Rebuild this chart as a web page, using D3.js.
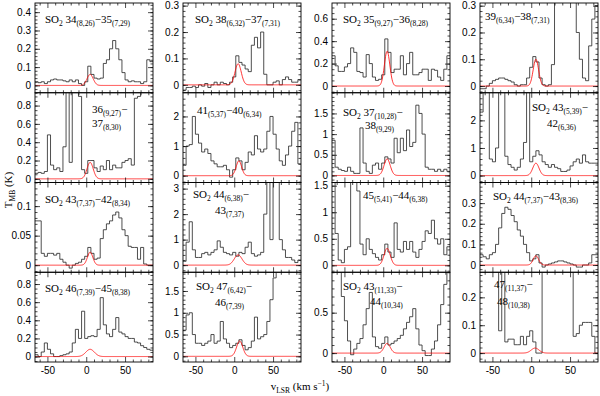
<!DOCTYPE html>
<html>
<head>
<meta charset="utf-8">
<script src="https://cdn.jsdelivr.net/npm/d3@7"></script>
<style>
body { margin: 0; background: #fff; }
svg { display: block; }
.tick text { font-family: "Liberation Sans", Arial, sans-serif; font-size: 10px; fill: #000; }
.lab { font-family: "Liberation Serif", "Times New Roman", serif; font-size: 11px; fill: #000; }
</style>
</head>
<body>
<div id="chart-area"></div>
<script>
// channel centres (km/s), 4 km/s wide
var vel = [-64,-60,-56,-52,-48,-44,-40,-36,-32,-28,-24,-20,-16,-12,-8,-4,0,4,8,12,16,20,24,28,32,36,40,44,48,52,56,60,64,68,72,76,80,84];

// spectra, T_MB (K)
var s1  = [0.02,0.015,0.02,0.01,0.02,0.03,0.035,0.03,0.03,0.025,0.02,0.03,0.02,0.03,0.01,0.0,0.02,0.105,0.06,0.04,0.035,0.04,0.12,0.14,0.2,0.245,0.2,0.14,0.07,0.03,0.02,0.025,0.02,0.02,0.01,0.02,0.14,0.13];
var s2  = [-0.02,-0.01,-0.01,-0.005,-0.01,0.0,-0.005,0.005,-0.01,0.0,0.01,0.0,0.01,0.005,0.0,0.01,0.03,0.11,0.085,0.075,0.06,0.05,0.15,0.18,0.14,0.2,0.04,0.0,0.0,0.01,0.015,0.0,0.02,0.03,0.02,0.01,0.01,0.02];
var s3  = [0.27,0.18,0.13,0.13,0.17,0.2,0.34,0.3,0.13,0.12,0.08,0.28,0.2,0.08,0.05,0.06,0.1,0.42,0.3,0.12,0.15,0.15,0.27,0.1,0.2,0.3,0.1,0.1,0.12,0.15,0.15,0.05,0.15,0.14,0.08,0.05,0.15,0.27];
var s4  = [-0.01,-0.01,0.0,0.01,0.02,0.025,0.03,0.03,0.025,0.02,0.015,0.005,0.0,0.005,0.005,0.03,0.07,0.11,0.09,0.03,0.005,0.0,0.005,0.08,0.5,0.6,0.7,0.6,0.5,0.45,0.4,0.2,0.1,0.03,0.02,0.15,0.25,0.3];
var s5  = [0.06,0.07,0.06,0.08,0.48,0.15,0.1,0.12,0.08,0.35,1.2,0.18,1.2,1.2,0.9,0.1,0.06,0.2,0.2,0.12,0.08,0.14,0.1,0.2,0.1,0.15,0.12,0.12,0.18,0.2,0.22,0.15,0.88,0.9,1.2,1.2,1.2,1.2];
var s6  = [0.35,1.0,1.05,2.0,1.4,1.1,0.8,0.9,0.75,0.5,0.4,0.3,0.3,0.35,0.2,-0.05,0.2,0.6,0.5,0.2,0.45,0.8,0.7,1.35,0.9,0.8,0.9,1.5,2.0,1.4,0.9,0.5,0.35,0.7,1.0,1.5,1.8,0.4];
var s7  = [0.85,0.2,0.15,0.12,0.1,0.2,0.1,0.05,0.05,1.15,0.3,0.1,0.05,0.25,0.3,0.15,0.3,0.45,0.4,0.3,0.9,0.55,0.9,0.6,1.1,0.7,0.8,1.7,1.5,1.0,0.2,0.15,0.15,0.1,0.15,0.1,0.15,0.1];
var s8  = [2.3,3.5,3.5,0.6,0.5,1.0,3.5,3.5,0.7,0.4,0.3,0.2,0.3,0.6,1.2,3.5,0.5,0.7,0.9,0.75,0.5,0.4,0.3,0.4,0.3,0.25,0.15,0.15,0.2,0.35,0.5,0.6,0.45,0.75,0.5,0.45,0.45,0.45];
var s9  = [0.075,0.075,0.02,0.015,0.02,0.02,0.017,0.02,0.01,0.005,0.0,-0.005,0.0,0.003,0.005,0.01,0.015,0.03,0.02,0.01,0.012,0.045,0.06,0.07,0.075,0.085,0.09,0.08,0.06,0.05,0.032,0.03,0.03,0.01,0.03,0.002,0.0,0.0];
var s10 = [0.15,0.9,1.7,0.6,0.3,0.3,0.45,0.5,0.4,0.5,0.6,0.95,0.7,0.5,0.45,0.4,0.5,0.35,0.5,0.45,0.7,0.9,0.45,0.35,0.4,0.5,2.0,3.5,1.0,3.5,3.5,1.0,0.6,0.3,0.3,0.2,0.1,0.2];
var s11 = [1.6,0.6,0.1,0.05,0.3,0.35,1.6,1.6,1.4,0.4,0.2,0.5,0.3,0.22,0.15,0.1,0.2,0.4,0.25,0.15,0.8,0.3,0.25,0.45,0.3,0.45,0.25,0.15,0.3,0.45,0.65,0.6,0.85,0.5,0.4,0.5,0.2,0.35];
var s12 = [0.05,0.04,0.03,0.05,0.06,0.1,0.18,0.25,0.28,0.27,0.24,0.21,0.17,0.14,0.1,0.06,0.02,0.03,0.05,0.01,-0.01,0.0,0.005,0.01,0.015,0.02,0.02,0.015,0.01,0.005,0.0,-0.01,-0.01,0.0,0.0,0.01,0.05,0.05];
var s13 = [0.02,0.0,0.05,0.15,0.08,0.03,0.0,0.0,0.01,0.02,0.03,0.05,0.15,0.3,0.2,0.5,0.2,0.22,0.23,0.22,0.3,0.65,0.35,0.25,0.22,0.3,0.43,0.27,0.25,0.22,0.2,0.2,0.16,0.15,0.12,0.1,0.08,0.07];
var s14 = [0.6,0.95,1.0,0.5,0.3,0.3,0.25,0.3,0.35,0.5,0.3,0.35,0.8,0.4,0.3,0.2,0.25,0.3,0.38,0.25,0.15,0.2,0.35,0.9,0.4,0.45,0.5,0.8,1.3,1.8,2.2,2.5,2.5,2.5,2.5,2.5,2.5,2.5];
var s15 = [1.2,1.2,1.0,0.7,0.4,0.15,-0.02,0.05,0.12,0.18,0.35,0.55,0.75,0.2,0.08,0.06,0.12,0.2,0.1,0.12,0.15,0.18,0.22,0.3,0.38,0.45,0.55,0.3,0.1,0.03,-0.03,-0.03,0.05,0.15,0.35,0.6,0.85,1.2];
var s16 = [0.4,0.4,0.4,0.4,0.4,0.4,0.08,0.35,0.04,0.05,0.05,0.03,0.03,0.06,0.03,0.06,0.08,0.04,0.0,0.0,0.4,0.4,0.4,0.4,0.4,0.4,0.4,0.4,0.4,0.4,0.06,0.07,0.1,0.11,0.11,0.11,0.06,0.0];
var spectra = [s1,s2,s3,s4,s5,s6,s7,s8,s9,s10,s11,s12,s13,s14,s15,s16];

// transition labels (_{..} = subscript, "|" = new line)
var labels = [
  "SO_{2} 34_{(8,26)}\u221235_{(7,29)}",
  "SO_{2} 38_{(6,32)}\u221237_{(7,31)}",
  "SO_{2} 35_{(9,27)}\u221236_{(8,28)}",
  "39_{(6,34)}\u221238_{(7,31)}",
  "36_{(9,27)}\u2212|37_{(8,30)}",
  "41_{(5,37)}\u221240_{(6,34)}",
  "SO_{2} 37_{(10,28)}\u2212|38_{(9,29)}",
  "SO_{2} 43_{(5,39)}\u2212|42_{(6,36)}",
  "SO_{2} 43_{(7,37)}\u221242_{(8,34)}",
  "SO_{2} 44_{(6,38)}\u2212|43_{(7,37)}",
  "45_{(5,41)}\u221244_{(6,38)}",
  "SO_{2} 44_{(7,37)}\u221243_{(8,36)}",
  "SO_{2} 46_{(7,39)}\u221245_{(8,38)}",
  "SO_{2} 47_{(6,42)}\u2212|46_{(7,39)}",
  "SO_{2} 43_{(11,33)}\u2212|44_{(10,34)}",
  "47_{(11,37)}\u2212|48_{(10,38)}"
];

// Gaussian fit parameters: amplitude (K), centre and sigma (km/s)
var fitAmp    = [0.06,0.08,0.31,0.1, 0.18,0.5,0.4,0.45, 0.022,0.4,0.32,0.045, 0.08,0.35,0.12,0.018];
var fitCenter = [5,5,5,6, 5,6,5,6, 5,5,5,6, 5,7,5,5];
var fitSigma  = [4,4,3.5,3.5, 4,3.5,4,4, 3.5,5,4,3.5, 5.5,4,4,5];

var yDomains = [
  [-0.04,0.45],[-0.03,0.31],[-0.06,0.74],[-0.025,0.31],
  [-0.04,0.94],[-0.23,2.8],[-0.17,2.0],[-0.25,3.0],
  [-0.012,0.14],[-0.28,3.24],[-0.13,1.56],[-0.035,0.40],
  [-0.06,0.93],[-0.13,1.93],[-0.11,1.0],[-0.032,0.29]
];
var yTicks = [
  [0,0.1,0.2,0.3,0.4],[0,0.1,0.2,0.3],[0,0.2,0.4,0.6],[0,0.1,0.2,0.3],
  [0,0.2,0.4,0.6,0.8],[0,1,2],[0,0.5,1,1.5],[0,1,2],
  [0,0.05,0.1],[0,1,2,3],[0,0.5,1,1.5],[0,0.1,0.2,0.3],
  [0,0.2,0.4,0.6,0.8],[0,0.5,1,1.5],[0,0.5],[0,0.1,0.2]
];
var yMinor = [0.02,0.02,0.05,0.02, 0.05,0.2,0.1,0.2, 0.01,0.2,0.1,0.02, 0.05,0.1,0.1,0.02];
var xTicks = [-50, 0, 50];
var xMinorTicks = [-60,-40,-30,-20,-10,10,20,30,40,60,70,80];

// layout
var W = 600, H = 396;
var colLeft = [35, 183, 332, 480], panelW = 118;
var rowTop = [3, 92.75, 182.5, 272.25], panelH = 89.75;
var labelPos = [
  [[10,20]],[[12,20]],[[11,20]],[[5,17]],
  [[57,20],[57,34]],[[14,21]],[[11,23],[33,36]],[[52,18],[67,34]],
  [[10,20.5]],[[10,15.5],[32,31.5]],[[31,16.5]],[[13,17.5]],
  [[10,20]],[[13,18],[32,34]],[[11,18],[38,33]],[[14,16],[17,33]]
];

var svg = d3.select("#chart-area").append("svg")
     .attr("width", W)
     .attr("height", H);

function richText(t, str) {
     // split into plain / _{sub} / ^{sup} pieces
     var parts = str.split(/([_^]\{[^}]*\})/);
     var shift = 0;
     parts.forEach(function (p) {
          if (!p) return;
          var s = 0, txt = p, small = false;
          if (p[0] === "_" && p[1] === "{") { s = 3; txt = p.slice(2, -1); small = true; }
          if (p[0] === "^" && p[1] === "{") { s = -4; txt = p.slice(2, -1); small = true; }
          var ts = t.append("tspan").attr("dy", s - shift).text(txt);
          if (small) ts.attr("font-size", "7.5px");
          shift = s;
     });
}

var x = d3.scaleLinear().domain([-66, 86]).range([0, panelW]);
var fitGrid = d3.range(-66, 86.01, 0.5);

spectra.forEach(function (spec, i) {
     var col = i % 4, row = Math.floor(i / 4);
     var g = svg.append("g").attr("transform", "translate(" + colLeft[col] + "," + rowTop[row] + ")");
     var y = d3.scaleLinear().domain(yDomains[i]).range([panelH, 0]);

     g.append("clipPath").attr("id", "clip" + i)
          .append("rect").attr("width", panelW).attr("height", panelH);

     // histogram steps
     var pts = [];
     spec.forEach(function (d, j) {
          pts.push([vel[j] - 2, d]);
          pts.push([vel[j] + 2, d]);
     });
     var line = d3.line().x(function (d) { return x(d[0]); }).y(function (d) { return y(d[1]); });
     g.append("path").datum(pts)
          .attr("clip-path", "url(#clip" + i + ")")
          .attr("d", line)
          .attr("fill", "none")
          .attr("stroke", "#222")
          .attr("stroke-width", 0.8);

     // gaussian fit
     var fit = fitGrid.map(function (v) {
          var u = (v - fitCenter[i]) / fitSigma[i];
          return [v, fitAmp[i] * Math.exp(-0.5 * u * u)];
     });
     g.append("path").datum(fit)
          .attr("clip-path", "url(#clip" + i + ")")
          .attr("d", line)
          .attr("fill", "none")
          .attr("stroke", "#f00")
          .attr("stroke-width", 0.8);

     // axes, ticks inward on all four sides
     var dom = yDomains[i], st = yMinor[i];
     var minors = d3.range(Math.ceil(dom[0] / st), Math.floor(dom[1] / st) + 1).map(function (k) { return +(k * st).toFixed(4); });
     var isBottom = row === 3;

     var axes = [
          [d3.axisBottom(x).tickValues(xTicks).tickSize(-5).tickPadding(5).tickFormat(isBottom ? function (d) { return d; } : ""), "translate(0," + panelH + ")"],
          [d3.axisBottom(x).tickValues(xMinorTicks).tickSize(-2.5).tickFormat(""), "translate(0," + panelH + ")"],
          [d3.axisTop(x).tickValues(xTicks).tickSize(-5).tickFormat(""), null],
          [d3.axisTop(x).tickValues(xMinorTicks).tickSize(-2.5).tickFormat(""), null],
          [d3.axisLeft(y).tickValues(yTicks[i]).tickSize(-5).tickPadding(4).tickFormat(function (d) { return d; }), null],
          [d3.axisLeft(y).tickValues(minors).tickSize(-2.5).tickFormat(""), null],
          [d3.axisRight(y).tickValues(yTicks[i]).tickSize(-5).tickFormat(""), "translate(" + panelW + ",0)"],
          [d3.axisRight(y).tickValues(minors).tickSize(-2.5).tickFormat(""), "translate(" + panelW + ",0)"]
     ];
     axes.forEach(function (a) {
          var ag = g.append("g").call(a[0]);
          if (a[1]) ag.attr("transform", a[1]);
          ag.select(".domain").remove();
          ag.selectAll(".tick line").attr("stroke", "#000").attr("stroke-width", 0.7);
     });

     g.append("rect")
          .attr("width", panelW).attr("height", panelH)
          .attr("fill", "none").attr("stroke", "#000").attr("stroke-width", 0.9);

     // label
     labels[i].split("|").forEach(function (ln, k) {
          var p = labelPos[i][k];
          var t = g.append("text").attr("class", "lab").attr("x", p[0]).attr("y", p[1]);
          richText(t, ln);
     });
});

// axis titles
var xt = svg.append("text").attr("class", "lab").attr("x", 300).attr("y", 390).attr("text-anchor", "middle");
richText(xt, "v_{LSR} (km s^{\u22121})");
var yt = svg.append("text").attr("class", "lab")
     .attr("transform", "translate(12,190) rotate(-90)").attr("text-anchor", "middle");
richText(yt, "T_{MB} (K)");
</script>
</body>
</html>
